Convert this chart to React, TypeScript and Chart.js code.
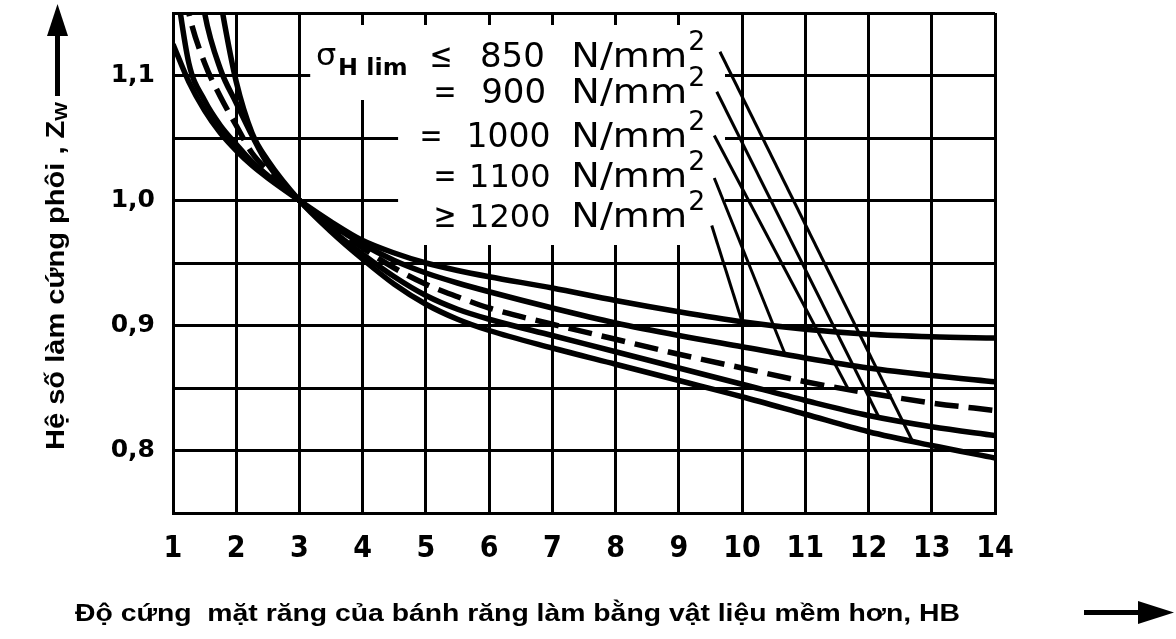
import React, { useEffect, useRef } from 'react';
import { Chart, registerables } from 'chart.js';

Chart.register(...registerables);

// Hardness ratio axis (HB), sample positions shared by every curve
const HB = [1, 1.25, 1.5, 1.75, 2, 2.25, 2.5, 3, 3.5, 4, 4.5, 5, 5.5, 6, 7, 8, 9, 10, 11, 12, 13, 14];

// Work-hardening factor Zw for each σH lim class
const ZW_850 = [1.4, 1.32, 1.24, 1.16, 1.095, 1.054, 1.032, 1.0, 0.975, 0.953, 0.933, 0.917, 0.905, 0.896, 0.882, 0.869, 0.856, 0.843, 0.829, 0.815, 0.804, 0.794];
const ZW_900 = [1.36, 1.24, 1.15, 1.105, 1.078, 1.052, 1.029, 1.0, 0.977, 0.957, 0.939, 0.924, 0.913, 0.905, 0.892, 0.879, 0.866, 0.853, 0.84, 0.828, 0.819, 0.812];
const ZW_1000 = [1.22, 1.15, 1.11, 1.083, 1.06, 1.038, 1.024, 1.0, 0.98, 0.962, 0.946, 0.933, 0.923, 0.914, 0.901, 0.889, 0.877, 0.866, 0.855, 0.846, 0.838, 0.832];
const ZW_1100 = [1.19, 1.11, 1.08, 1.06, 1.045, 1.031, 1.02, 1.0, 0.981, 0.965, 0.952, 0.942, 0.934, 0.927, 0.914, 0.902, 0.892, 0.883, 0.874, 0.866, 0.86, 0.855];
const ZW_1200 = [1.125, 1.095, 1.072, 1.054, 1.04, 1.028, 1.018, 1.0, 0.983, 0.968, 0.958, 0.95, 0.944, 0.939, 0.93, 0.92, 0.911, 0.903, 0.897, 0.893, 0.891, 0.89];

// Label rows: sign and σH lim value (N/mm²)
const LIMIT_SIGNS = ['≤', '=', '=', '=', '≥'];
const LIMIT_VALUES = ['850', '900', '1000', '1100', '1200'];

// Leader lines from each label to its curve (HB, Zw)
const LEADER_FROM_X = [9.65, 9.6, 9.56, 9.56, 9.52];
const LEADER_FROM_Y = [1.119, 1.087, 1.052, 1.018, 0.98];
const LEADER_TO_X = [12.69, 12.17, 11.68, 10.68, 10.0];
const LEADER_TO_Y = [0.808, 0.826, 0.849, 0.877, 0.903];

const Y_TITLE = 'Hệ số làm cứng phôi , Z';
const Y_TITLE_SUB = 'W';
const X_TITLE = 'Độ cứng  mặt răng của bánh răng làm bằng vật liệu mềm hơn, HB';

const BLACK = '#000';

const points = (ys: number[]) => HB.map((x, i) => ({ x, y: ys[i] }));

// Text drawn with a horizontal scale so it fills the given width
function fitText(ctx: CanvasRenderingContext2D, text: string, x: number, y: number, w: number) {
  const m = ctx.measureText(text).width;
  const sx = w / m;
  ctx.save();
  ctx.translate(x, y);
  ctx.scale(sx, 1);
  ctx.textAlign = 'left';
  ctx.fillText(text, 0, 0);
  ctx.restore();
}

const overlay = {
  id: 'zwOverlay',
  beforeDatasetsDraw(chart: any) {
    const { ctx } = chart;
    const xs = chart.scales.x;
    const ys = chart.scales.y;
    const px = (v: number) => xs.getPixelForValue(v);
    const py = (v: number) => ys.getPixelForValue(v);
    // clear panel behind the class labels
    ctx.save();
    ctx.fillStyle = '#fff';
    ctx.beginPath();
    ctx.moveTo(px(3.17), py(1.1404));
    ctx.lineTo(px(9.73), py(1.1404));
    ctx.lineTo(px(9.73), py(0.9644));
    ctx.lineTo(px(4.56), py(0.9644));
    ctx.lineTo(px(4.56), py(1.0804));
    ctx.lineTo(px(3.17), py(1.0804));
    ctx.closePath();
    ctx.fill();
    ctx.restore();
  },
  afterDraw(chart: any) {
    const { ctx } = chart;
    const xs = chart.scales.x;
    const ys = chart.scales.y;
    const px = (v: number) => xs.getPixelForValue(v);
    const py = (v: number) => ys.getPixelForValue(v);
    ctx.save();
    ctx.fillStyle = BLACK;
    ctx.textBaseline = 'alphabetic';
    ctx.textAlign = 'left';

    // σH lim heading
    ctx.font = '31px "DejaVu Sans"';
    fitText(ctx, 'σ', px(3.26), py(1.1084), px(3.58) - px(3.26));
    ctx.font = 'bold 23px "DejaVu Sans"';
    fitText(ctx, 'H lim', px(3.61), py(1.1004), px(4.71) - px(3.61));

    const baselines = [1.1068, 1.078, 1.0428, 1.0108, 0.9788];
    const signLeft = [5.09, 5.15, 4.93, 5.15, 5.15];
    const numRight = [6.88, 6.9, 6.97, 6.97, 6.97];
    const numSize = [34, 34, 33, 32, 32];
    LIMIT_VALUES.forEach((val, i) => {
      const b = py(baselines[i]);
      ctx.font = '34px "DejaVu Sans"';
      fitText(ctx, LIMIT_SIGNS[i], px(signLeft[i]) - 2, b, 23);
      ctx.font = `${numSize[i]}px "DejaVu Sans"`;
      ctx.textAlign = 'right';
      ctx.fillText(val, px(numRight[i]), b);
      ctx.font = '34px "DejaVu Sans"';
      fitText(ctx, 'N/mm', px(7.3), b, px(9.13) - px(7.3));
      ctx.font = '27px "DejaVu Sans"';
      fitText(ctx, '2', px(9.15), b - 17, 17);
    });

    // y axis title with subscript, rotated
    ctx.save();
    ctx.translate(64, 450);
    ctx.rotate(-Math.PI / 2);
    ctx.textAlign = 'left';
    ctx.font = 'bold 25px "Liberation Sans"';
    const mainW = ctx.measureText(Y_TITLE).width;
    ctx.font = 'bold 17px "Liberation Sans"';
    const subW = ctx.measureText(Y_TITLE_SUB).width;
    const k = 348 / (mainW + subW);
    ctx.scale(k, 1);
    ctx.font = 'bold 25px "Liberation Sans"';
    ctx.fillText(Y_TITLE, 0, 0);
    ctx.font = 'bold 17px "Liberation Sans"';
    ctx.fillText(Y_TITLE_SUB, mainW, 3);
    ctx.restore();

    // y arrow
    ctx.fillRect(55, 30, 5, 66);
    ctx.beginPath();
    ctx.moveTo(57.5, 4);
    ctx.lineTo(68, 36);
    ctx.lineTo(47, 36);
    ctx.closePath();
    ctx.fill();

    // x axis title
    ctx.textAlign = 'left';
    ctx.font = 'bold 24px "Liberation Sans"';
    fitText(ctx, X_TITLE, 75, 621, 885);

    // x arrow
    ctx.fillRect(1084, 610, 56, 5);
    ctx.beginPath();
    ctx.moveTo(1174, 612.5);
    ctx.lineTo(1138, 601);
    ctx.lineTo(1138, 624);
    ctx.closePath();
    ctx.fill();

    ctx.restore();
  },
};

export default function App() {
  const ref = useRef<HTMLCanvasElement | null>(null);

  useEffect(() => {
    if (!ref.current) return;
    const curve = (ys: number[], dashed = false) => ({
      data: points(ys),
      borderColor: BLACK,
      borderWidth: 5.5,
      borderDash: dashed ? [24, 10] : [],
      pointRadius: 0,
      cubicInterpolationMode: 'monotone' as const,
      clip: 0,
    });
    const leaders = LEADER_FROM_X.map((x0, i) => ({
      data: [
        { x: x0, y: LEADER_FROM_Y[i] },
        { x: LEADER_TO_X[i], y: LEADER_TO_Y[i] },
      ],
      borderColor: BLACK,
      borderWidth: 3,
      pointRadius: 0,
      tension: 0,
      clip: 0,
    }));
    const grid = { color: BLACK, lineWidth: 3, drawTicks: false };
    const border = { color: BLACK, width: 3 };
    const chart = new Chart(ref.current, {
      type: 'line',
      data: {
        datasets: [
          curve(ZW_850),
          curve(ZW_900),
          curve(ZW_1000, true),
          curve(ZW_1100),
          curve(ZW_1200),
          ...leaders,
        ] as any,
      },
      options: {
        responsive: false,
        animation: false,
        events: [],
        layout: { padding: { left: 0, top: 13, right: 181, bottom: 0 } },
        plugins: { legend: { display: false }, tooltip: { enabled: false } },
        scales: {
          x: {
            type: 'linear',
            min: 1,
            max: 14,
            afterFit: (s: any) => {
              s.height = 126;
              s.paddingLeft = 0;
              s.paddingRight = 0;
            },
            ticks: {
              stepSize: 1,
              autoSkip: false,
              maxRotation: 0,
              color: BLACK,
              padding: 18,
              font: { family: '"Liberation Sans Narrow", "DejaVu Sans Condensed", sans-serif', size: 30, weight: 'bold' },
            },
            grid,
            border,
          },
          y: {
            min: 0.75,
            max: 1.15,
            afterFit: (s: any) => {
              s.width = 173;
              s.paddingTop = 0;
              s.paddingBottom = 0;
            },
            ticks: {
              stepSize: 0.05,
              autoSkip: false,
              color: BLACK,
              padding: 18,
              font: { family: '"DejaVu Sans"', size: 25, weight: 'bold' },
              callback: (v: any) => {
                const k = Math.round(Number(v) * 100);
                return k % 10 === 0 ? (k / 100).toFixed(1).replace('.', ',') : '';
              },
            },
            grid,
            border,
          },
        },
      },
      plugins: [overlay],
    });
    return () => chart.destroy();
  }, []);

  return (
    <div style={{ position: 'fixed', left: 0, top: 0, width: 1176, height: 639, background: '#fff' }}>
      <canvas ref={ref} width={1176} height={639} style={{ display: 'block' }} />
    </div>
  );
}
